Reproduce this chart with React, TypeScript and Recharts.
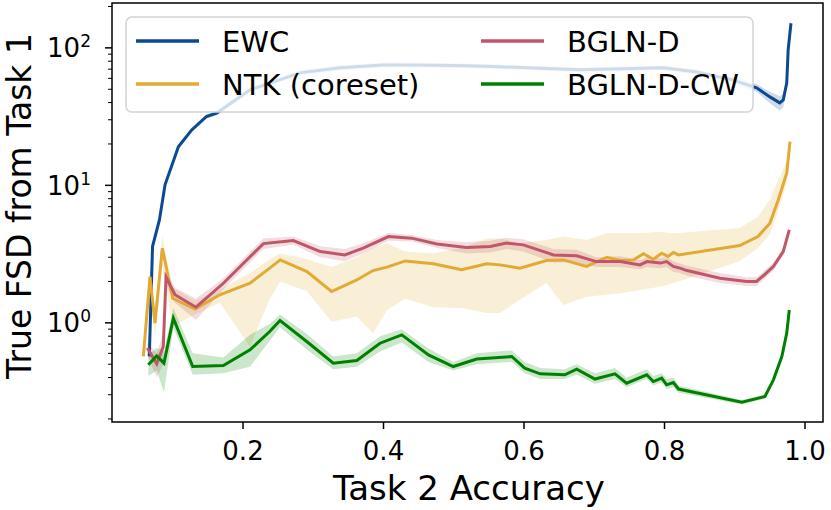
import React from "react";
import { ComposedChart, Line, Area, XAxis, YAxis, ReferenceArea } from "recharts";

const FONT = "DejaVu Sans, sans-serif";
const X_MIN = 0.0135;
const X_MAX = 1.0256;
const Y_MIN = 0.19;
const Y_MAX = 212;

const X_TICKS = [0.2, 0.4, 0.6, 0.8, 1.0];
const Y_MAJOR = [1, 10, 100];
const Y_TICKS = [
  0.2, 0.3, 0.4, 0.5, 0.6, 0.7, 0.8, 0.9, 1,
  2, 3, 4, 5, 6, 7, 8, 9, 10,
  20, 30, 40, 50, 60, 70, 80, 90, 100, 200,
];

const SERIES_NAMES = ["EWC", "NTK (coreset)", "BGLN-D", "BGLN-D-CW"];
const COLORS = ["#0b4a90", "#e2a933", "#c0566a", "#008000"];

// EWC
const ewcX = [0.0666, 0.0712, 0.081, 0.089, 0.108, 0.127, 0.148, 0.163, 0.21, 0.281, 0.338, 0.399, 0.448, 0.519, 0.566, 0.68, 0.798, 0.846, 0.897, 0.931, 0.95, 0.964, 0.969, 0.974, 0.976, 0.98];
const ewcY = [0.57, 3.59, 5.6, 10.1, 19.1, 25.3, 31.7, 33.7, 49.5, 65.8, 71.6, 75.2, 75, 74, 72.8, 69.2, 71.6, 66.8, 58.5, 51.2, 44, 39.8, 41.8, 55.6, 96.7, 151];
const ewcLo = [0.52, 3.3, 5.3, 9.6, 18.3, 24.3, 30.5, 32.4, 47.5, 63, 68.5, 72, 72, 71, 70, 66.5, 68.8, 64, 55.8, 48, 39.5, 35, 37, 50, 88, 140];
const ewcHi = [0.62, 3.9, 5.9, 10.6, 19.9, 26.3, 32.9, 35, 51.5, 68.6, 74.7, 78.4, 78, 77, 75.6, 72, 74.4, 69.6, 61.2, 54.5, 48, 44.5, 46.5, 61, 105, 162];

// NTK (coreset)
const ntkX = [0.0581, 0.0676, 0.0747, 0.0851, 0.0999, 0.1317, 0.167, 0.21, 0.238, 0.253, 0.291, 0.326, 0.362, 0.385, 0.405, 0.431, 0.471, 0.511, 0.547, 0.566, 0.594, 0.632, 0.656, 0.689, 0.718, 0.737, 0.756, 0.77, 0.784, 0.796, 0.805, 0.8125, 0.82, 0.907, 0.933, 0.95, 0.962, 0.974, 0.9786];
const ntkY = [0.57, 2.17, 0.995, 3.49, 1.51, 1.26, 1.6, 1.94, 2.5, 2.87, 2.36, 1.69, 2.05, 2.4, 2.54, 2.82, 2.69, 2.43, 2.69, 2.64, 2.5, 2.84, 2.87, 2.57, 3.0, 2.84, 2.87, 3.18, 2.9, 3.21, 3.04, 3.25, 3.12, 3.65, 4.24, 5.3, 7.85, 12.3, 20.8];
const ntkLo = [0.55, 1.6, 0.8, 2.6, 0.95, 1.15, 1.4, 0.67, 1.5, 2.0, 1.7, 1.02, 1.11, 0.84, 1.24, 1.5, 1.3, 1.28, 1.18, 1.18, 1.47, 1.95, 1.35, 1.55, 1.6, 1.64, 1.7, 1.75, 1.8, 1.84, 1.9, 1.95, 2.0, 2.8, 3.5, 4.4, 6.5, 10.5, 19];
const ntkHi = [0.6, 2.5, 1.2, 4.3, 1.8, 1.45, 1.75, 2.3, 2.9, 3.2, 2.9, 2.55, 3.0, 3.5, 3.8, 3.3, 3.2, 3.5, 4.1, 4.1, 3.8, 4.0, 4.24, 4.0, 4.5, 4.5, 4.5, 4.5, 4.55, 4.6, 4.5, 4.5, 4.5, 4.9, 5.9, 7.9, 11, 15, 22];

// BGLN-D
const bgX = [0.0638, 0.0772, 0.0865, 0.0904, 0.1032, 0.133, 0.172, 0.229, 0.2716, 0.31, 0.345, 0.371, 0.407, 0.44, 0.476, 0.518, 0.552, 0.575, 0.599, 0.642, 0.675, 0.703, 0.737, 0.765, 0.775, 0.794, 0.803, 0.8125, 0.822, 0.832, 0.879, 0.917, 0.931, 0.9406, 0.955, 0.969, 0.9776];
const bgY = [0.655, 0.503, 0.673, 2.15, 1.6, 1.3, 1.94, 3.77, 3.97, 3.3, 3.12, 3.49, 4.24, 4.13, 3.75, 3.53, 3.59, 3.8, 3.69, 3.12, 3.07, 2.79, 2.79, 2.64, 2.79, 2.72, 2.79, 2.57, 2.5, 2.4, 2.11, 2.0, 2.0, 2.2, 2.57, 3.3, 4.75];
const bgLo = [0.58, 0.4, 0.5, 1.9, 1.4, 1.05, 1.75, 3.45, 3.7, 3.0, 2.8, 3.2, 3.95, 3.9, 3.5, 3.2, 3.25, 3.45, 3.3, 2.75, 2.75, 2.55, 2.55, 2.45, 2.55, 2.5, 2.55, 2.35, 2.3, 2.2, 1.95, 1.85, 1.85, 2.05, 2.4, 3.1, 4.4];
const bgHi = [0.72, 0.6, 0.85, 2.35, 1.8, 1.5, 2.1, 4.1, 4.25, 3.6, 3.45, 3.8, 4.5, 4.35, 4.0, 3.85, 3.95, 4.15, 4.05, 3.45, 3.4, 3.0, 3.05, 2.85, 3.0, 2.95, 3.0, 2.8, 2.7, 2.6, 2.3, 2.15, 2.15, 2.35, 2.75, 3.5, 5.1];

// BGLN-D-CW
const cwX = [0.0652, 0.0772, 0.0875, 0.1008, 0.1284, 0.172, 0.21, 0.238, 0.2527, 0.2907, 0.3285, 0.362, 0.395, 0.426, 0.464, 0.4993, 0.5327, 0.5825, 0.601, 0.623, 0.658, 0.675, 0.701, 0.7295, 0.746, 0.7747, 0.784, 0.796, 0.803, 0.8125, 0.82, 0.91, 0.943, 0.955, 0.967, 0.974, 0.9776];
const cwY = [0.495, 0.575, 0.509, 1.08, 0.481, 0.489, 0.636, 0.865, 1.04, 0.731, 0.509, 0.532, 0.711, 0.818, 0.585, 0.481, 0.545, 0.569, 0.468, 0.426, 0.419, 0.46, 0.39, 0.426, 0.364, 0.419, 0.374, 0.396, 0.354, 0.368, 0.33, 0.265, 0.291, 0.385, 0.569, 0.842, 1.24];
const cwLo = [0.41, 0.45, 0.31, 0.92, 0.42, 0.43, 0.48, 0.74, 0.93, 0.64, 0.46, 0.48, 0.62, 0.72, 0.52, 0.45, 0.5, 0.52, 0.43, 0.39, 0.39, 0.42, 0.36, 0.39, 0.34, 0.39, 0.35, 0.37, 0.33, 0.34, 0.31, 0.255, 0.28, 0.37, 0.54, 0.8, 1.15];
const cwHi = [0.58, 0.66, 0.62, 1.28, 0.6, 0.56, 0.82, 0.98, 1.15, 0.83, 0.57, 0.6, 0.8, 0.9, 0.65, 0.52, 0.6, 0.63, 0.52, 0.47, 0.46, 0.5, 0.43, 0.47, 0.4, 0.46, 0.41, 0.43, 0.39, 0.4, 0.35, 0.275, 0.3, 0.4, 0.6, 0.89, 1.4];

const rows = (xs: number[], ys: number[], lo: number[], hi: number[]) =>
  xs.map((x, i) => ({ x, y: ys[i], band: [lo[i], hi[i]] }));

const SERIES = [
  rows(ewcX, ewcY, ewcLo, ewcHi),
  rows(ntkX, ntkY, ntkLo, ntkHi),
  rows(bgX, bgY, bgLo, bgHi),
  rows(cwX, cwY, cwLo, cwHi),
];

function XTick(props: any) {
  const { x, y, payload } = props;
  return (
    <g>
      <line x1={x} x2={x} y1={y} y2={y + 7} stroke="#000" strokeWidth={1.5} />
      <text x={x} y={y + 38} textAnchor="middle" fontSize={26} fontFamily={FONT} fill="#000">
        {payload.value.toFixed(1)}
      </text>
    </g>
  );
}

function YTick(props: any) {
  const { x, y, payload } = props;
  const v = payload.value;
  const major = Y_MAJOR.includes(v);
  return (
    <g>
      <line x1={x - (major ? 7 : 4)} x2={x} y1={y} y2={y} stroke="#000" strokeWidth={major ? 1.5 : 1} />
      {major && (
        <text x={x - 21} y={y + 9.5} textAnchor="end" fontSize={26} fontFamily={FONT} fill="#000">
          10
          <tspan dy={-10} fontSize={17}>{Math.round(Math.log10(v))}</tspan>
        </text>
      )}
    </g>
  );
}

function XTitle() {
  return (
    <text x={469} y={500} textAnchor="middle" fontSize={34} fontFamily={FONT} fill="#000">
      Task 2 Accuracy
    </text>
  );
}

function YTitle() {
  return (
    <text x={-206} y={31} transform="rotate(-90)" textAnchor="middle" fontSize={33} fontFamily={FONT} fill="#000">
      True FSD from Task 1
    </text>
  );
}

function LegendBox() {
  const items = [
    { i: 0, lx: 10, tx: 96, y: 24 },
    { i: 1, lx: 10, tx: 96, y: 67 },
    { i: 2, lx: 355, tx: 441, y: 24 },
    { i: 3, lx: 355, tx: 441, y: 67 },
  ];
  return (
    <svg width={629} height={97} style={{ position: "absolute", left: 125, top: 16 }}>
      <rect x={1} y={1} width={627} height={95} rx={6} fill="#fff" fillOpacity={0.8} stroke="#d4d4d4" strokeWidth={1.5} />
      {items.map((it) => (
        <g key={it.i}>
          <line x1={it.lx + 1} x2={it.lx + 64} y1={it.y + 1} y2={it.y + 1} stroke={COLORS[it.i]} strokeWidth={3.5} />
          <text x={it.tx + 1} y={it.y + 12} fontSize={29} fontFamily={FONT} fill="#000">
            {SERIES_NAMES[it.i]}
          </text>
        </g>
      ))}
    </svg>
  );
}

export default function App() {
  return (
    <div style={{ position: "absolute", left: 0, top: 0, width: 831, height: 510, background: "#fff" }}>
      <ComposedChart width={831} height={510} margin={{ top: 3, right: 8, left: 0, bottom: 0 }}>
        <XAxis
          type="number"
          dataKey="x"
          domain={[X_MIN, X_MAX]}
          allowDataOverflow
          ticks={X_TICKS}
          interval={0}
          height={88}
          axisLine={false}
          tickLine={false}
          tickSize={0}
          tickMargin={0}
          tick={<XTick />}
          label={<XTitle />}
        />
        <YAxis
          type="number"
          scale="log"
          domain={[Y_MIN, Y_MAX]}
          allowDataOverflow
          ticks={Y_TICKS}
          interval={0}
          width={112}
          axisLine={false}
          tickLine={false}
          tickSize={0}
          tickMargin={0}
          tick={<YTick />}
          label={<YTitle />}
        />
        {SERIES.map((d, i) => (
          <Area
            key={"band" + i}
            data={d}
            dataKey="band"
            type="linear"
            stroke="none"
            fill={COLORS[i]}
            fillOpacity={0.2}
            dot={false}
            activeDot={false}
            isAnimationActive={false}
          />
        ))}
        {SERIES.map((d, i) => (
          <Line
            key={"line" + i}
            data={d}
            dataKey="y"
            type="linear"
            stroke={COLORS[i]}
            strokeWidth={3}
            dot={false}
            activeDot={false}
            isAnimationActive={false}
          />
        ))}
        <ReferenceArea
          x1={X_MIN}
          x2={X_MAX}
          y1={Y_MIN}
          y2={Y_MAX}
          fill="none"
          stroke="#000"
          strokeWidth={1.5}
          ifOverflow="visible"
        />
      </ComposedChart>
      <LegendBox />
    </div>
  );
}
